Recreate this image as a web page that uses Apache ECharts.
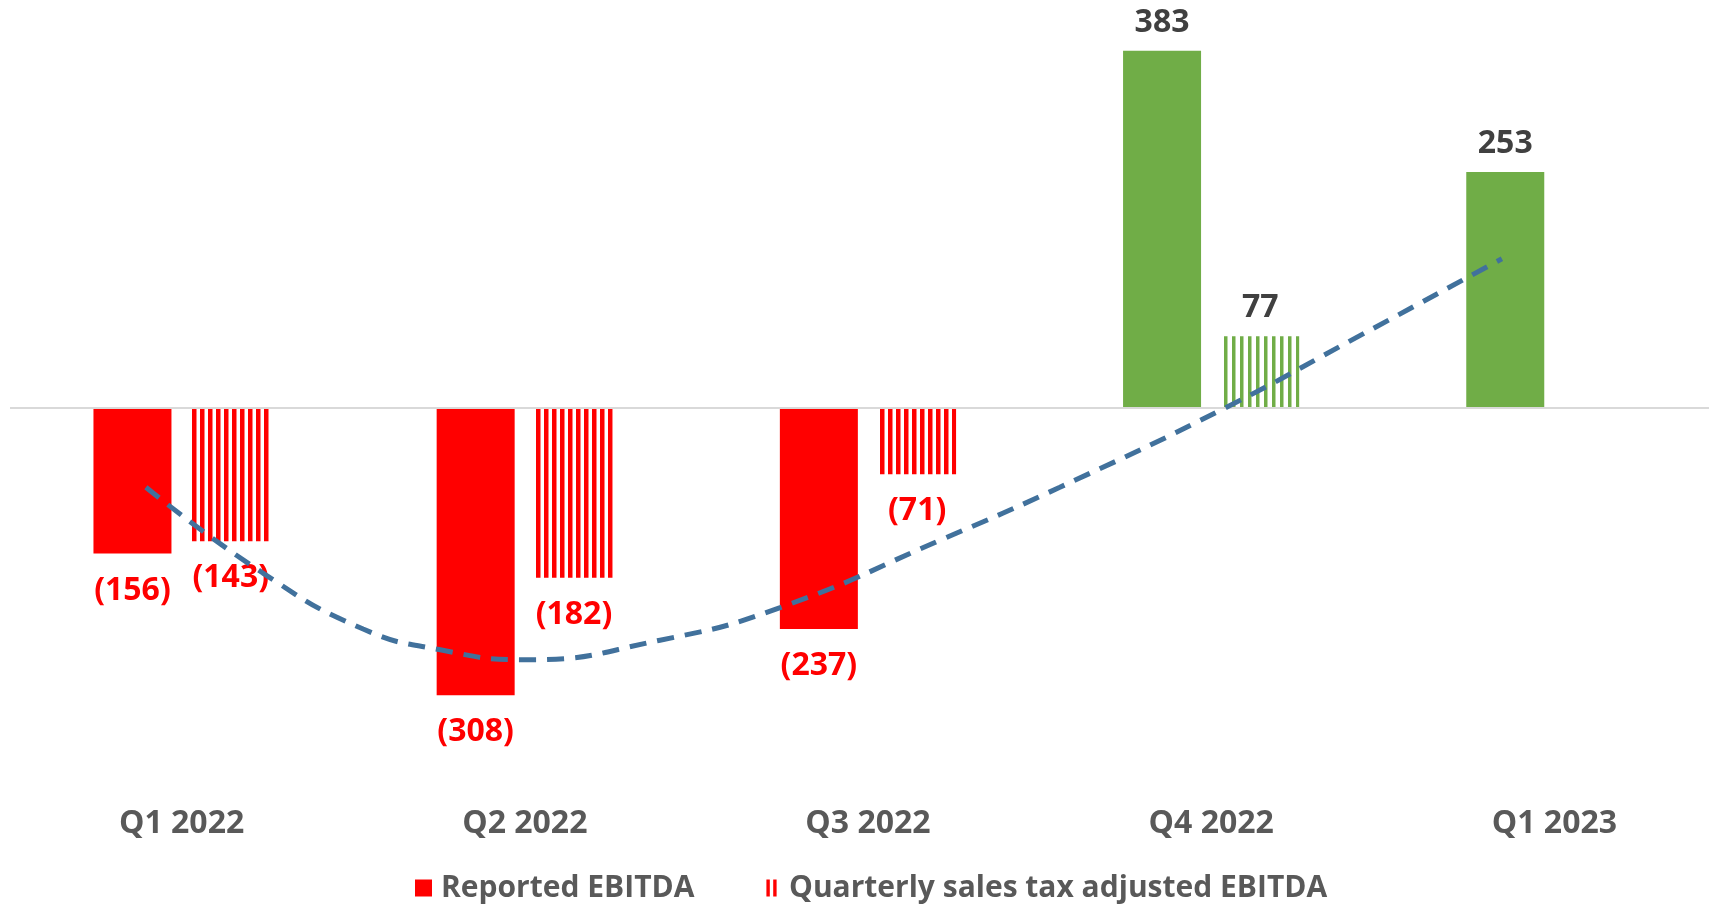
<!DOCTYPE html>
<html>
<head>
<meta charset="utf-8">
<title>EBITDA</title>
<script src="https://cdn.jsdelivr.net/npm/echarts@6/dist/echarts.min.js"></script>
<style>
  html, body { margin: 0; padding: 0; background: #fff; overflow: hidden; }
  /* the plot runs a little past the right edge, as in the original crop */
  #chart { width: 1726px; height: 905px; }
</style>
</head>
<body>
<div id="chart"></div>
<script>
// values
var categories = ['Q1 2022', 'Q2 2022', 'Q3 2022', 'Q4 2022', 'Q1 2023']
var reported = [-156, -308, -237, 383, 253]
var adjusted = [-143, -182, -71, 77, null]
// dashed trend curve, x in category units (0..5)
var trendX = [0.396, 0.737, 1.029, 1.25, 1.5, 1.894, 2.244, 2.721, 3.059, 3.54, 3.925, 4.347]
var trendY = [-85, -177, -237, -259, -270, -249, -214, -140, -85, 0, 76, 160]

var RED = '#FF0000'
var GREEN = '#70AD47'
var FONT = 'Open Sans'

function stripes(color, w) {
  var c = document.createElement('canvas')
  c.width = 8
  c.height = 8
  var ctx = c.getContext('2d')
  ctx.fillStyle = color
  ctx.fillRect(0, 0, w, 8)
  return { image: c, repeat: 'repeat' }
}

function fmt(v) {
  return v < 0 ? '(' + (-v) + ')' : String(v)
}

function labelFor(v) {
  return {
    position: v < 0 ? 'bottom' : 'top',
    distance: v < 0 ? 21 : 12,
    color: v < 0 ? RED : '#404040'
  }
}

var redStripes = stripes(RED, 4.5)
var greenStripes = stripes(GREEN, 3.5)

var reportedData = reported.map(function(v) {
  return { value: v, itemStyle: { color: v < 0 ? RED : GREEN }, label: labelFor(v) }
})
var adjustedData = adjusted.map(function(v) {
  if (v === null) return '-'
  return { value: v, itemStyle: { color: v < 0 ? redStripes : greenStripes }, label: labelFor(v) }
})

var barLabel = {
  show: true,
  fontSize: 32,
  fontWeight: 'bold',
  fontFamily: FONT,
  formatter: function(p) { return fmt(p.value) }
}

var chart = echarts.init(document.getElementById('chart'))
chart.setOption({
  backgroundColor: '#fff',
  animation: false,
  grid: {
    left: 10,
    right: 0,
    top: 35,
    bottom: 124,
    containLabel: false
  },
  legend: {
    data: [
      { name: 'Reported EBITDA', icon: 'rect', itemStyle: { color: RED } },
      { name: 'Quarterly sales tax adjusted EBITDA', icon: 'path://M0,0H2V10H0Z M4,0H6V10H4Z', itemStyle: { color: RED } }
    ],
    left: 410,
    top: 868,
    itemWidth: 17,
    itemHeight: 17,
    itemGap: 72,
    textStyle: {
      fontSize: 30,
      fontWeight: 'bold',
      fontFamily: FONT,
      color: '#595959',
      padding: [0, 0, 0, 4]
    }
  },
  xAxis: [{
    type: 'category',
    data: categories,
    axisLine: { show: false },
    axisTick: { show: false },
    axisLabel: {
      margin: 27,
      fontSize: 32,
      fontWeight: 'bold',
      fontFamily: FONT,
      color: '#595959'
    }
  }, {
    type: 'value',
    min: 0,
    max: 5,
    show: false
  }],
  yAxis: [{
    type: 'value',
    min: -400,
    max: 400,
    show: false
  }],
  series: [{
    name: 'Reported EBITDA',
    type: 'bar',
    barWidth: 78,
    barGap: '26%',
    label: barLabel,
    data: reportedData,
    markLine: {
      silent: true,
      symbol: ['none', 'none'],
      label: { show: false },
      lineStyle: { color: '#D9D9D9', width: 2, type: 'solid' },
      data: [{ yAxis: 0 }]
    }
  }, {
    name: 'Quarterly sales tax adjusted EBITDA',
    type: 'bar',
    barWidth: 78,
    label: barLabel,
    data: adjustedData
  }, {
    name: 'trend',
    type: 'line',
    xAxisIndex: 1,
    smooth: true,
    showSymbol: false,
    silent: true,
    z: 5,
    lineStyle: { color: '#41719C', width: 5, type: [17, 11] },
    data: trendX.map(function(x, i) { return [x, trendY[i]] })
  }]
})
</script>
</body>
</html>
